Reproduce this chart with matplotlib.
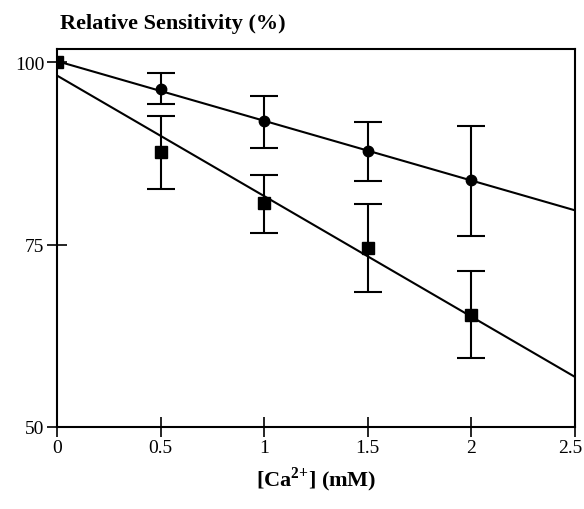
import numpy as np
import matplotlib
matplotlib.use("Agg")
import matplotlib.pyplot as plt
import matplotlib.transforms as mtransforms

plt.rcParams['font.family'] = ['Liberation Serif', 'DejaVu Serif']
plt.rcParams['mathtext.fontset'] = 'custom'
plt.rcParams['mathtext.rm'] = 'Liberation Serif'
plt.rcParams['mathtext.bf'] = 'Liberation Serif:bold'

# Data
ca_mM = [0.0, 0.5, 1.0, 1.5, 2.0]
circle_vals = [100.0, 96.3, 91.9, 87.8, 83.8]
circle_err_hi = [0.0, 2.2, 3.4, 4.0, 7.4]
circle_err_lo = [0.0, 2.1, 3.7, 4.1, 7.6]
square_vals = [100.0, 87.7, 80.7, 74.5, 65.3]
square_err_hi = [0.0, 4.9, 3.8, 6.0, 6.1]
square_err_lo = [0.0, 5.1, 4.1, 6.0, 5.8]
x_ticks = [0, 0.5, 1, 1.5, 2, 2.5]
x_tick_labels = ["0", "0.5", "1", "1.5", "2", "2.5"]
y_ticks = [50, 75, 100]
y_tick_labels = ["50", "75", "100"]

fig = plt.figure(figsize=(5.84, 5.10), dpi=100)
ax = fig.add_axes([57/584, 1-428/510, (575-57)/584, (428-50)/510])

x = np.array(ca_mM)
xfit = np.array([0.0, 2.5])
for vals, lo, hi, marker, ms in [
    (circle_vals, circle_err_lo, circle_err_hi, 'o', 7.5),
    (square_vals, square_err_lo, square_err_hi, 's', 8.5),
]:
    p = np.polyfit(x, vals, 1)
    ax.plot(xfit, np.polyval(p, xfit), color='black', lw=1.5, zorder=2)
    ax.errorbar(x[1:], np.array(vals)[1:], yerr=[np.array(lo)[1:], np.array(hi)[1:]],
                fmt='none', ecolor='black', elinewidth=1.5, capsize=10, capthick=1.5, zorder=3)
    ax.plot(x, vals, linestyle='none', marker=marker, ms=ms, color='black', zorder=4)

ax.set_xlim(0, 2.5)
ax.set_ylim(50, 101.8)
ax.set_xticks(x_ticks)
ax.set_xticklabels(x_tick_labels)
ax.set_yticks(y_ticks)
ax.set_yticklabels(y_tick_labels)
ax.tick_params(direction='inout', length=14, width=1.2, labelsize=14, pad=2)
for s in ax.spines.values():
    s.set_linewidth(1.5)

last = ax.get_xticklabels()[-1]
last.set_ha('right')
last.set_transform(last.get_transform() + mtransforms.ScaledTranslation(7/100, 0, fig.dpi_scale_trans))

ax.set_xlabel(r"[Ca$^{\mathbf{2{+}}}$] (mM)", fontsize=16, fontweight='bold', labelpad=6)
fig.text(60/584, 1-24/510, "Relative Sensitivity (%)", fontsize=16, fontweight='bold',
         ha='left', va='center')

fig.savefig("out.png", dpi=100)
